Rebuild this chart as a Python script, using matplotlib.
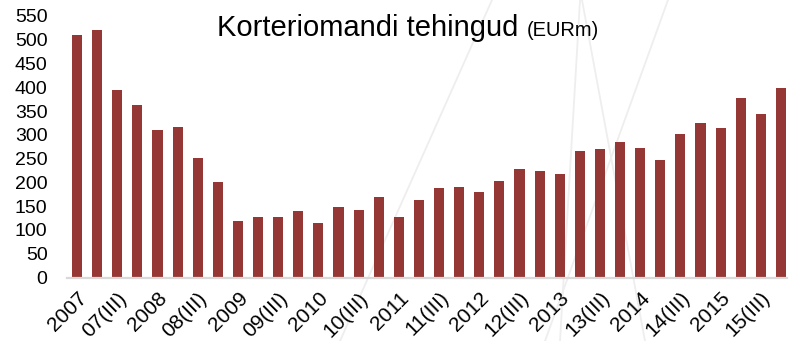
import matplotlib
matplotlib.use("Agg")
import matplotlib.pyplot as plt
from matplotlib.lines import Line2D

plt.rcParams['font.family'] = ['Liberation Sans', 'DejaVu Sans']

# Quarterly apartment transaction volumes, EUR million (2007 Q1 .. 2015 Q4)
quarters = [f"{y}Q{q}" for y in range(2007, 2016) for q in range(1, 5)]
values = [510, 521, 394, 363, 310, 316, 252, 200,
          118, 127, 127, 140, 115, 148, 142, 169,
          127, 163, 188, 190, 179, 202, 228, 224,
          218, 267, 271, 286, 273, 247, 301, 324,
          315, 377, 343, 399]
tick_labels = ["2007", "07(III)", "2008", "08(III)", "2009", "09(III)",
               "2010", "10(III)", "2011", "11(III)", "2012", "12(III)",
               "2013", "13(III)", "2014", "14(III)", "2015", "15(III)"]
y_ticks = list(range(0, 551, 50))

W, H = 796, 341
fig = plt.figure(figsize=(W / 100, H / 100), dpi=100)
fig.patch.set_facecolor("white")

# faint decorative background strokes
strokes = [((492, 0), (340, 341)),
           ((580, 0), (560, 341)),
           ((582, 0), (645, 341)),
           ((668, 0), (545, 341))]
for (x0, y0), (x1, y1) in strokes:
    fig.add_artist(Line2D([x0 / W, x1 / W], [1 - y0 / H, 1 - y1 / H],
                          transform=fig.transFigure, color="#eeeeee",
                          lw=1.3, zorder=0))

ax = fig.add_axes([67 / W, (H - 277.5) / H, 720 / W, (277.5 - 16) / H])
ax.set_facecolor("none")
ax.set_zorder(1)

x = list(range(len(values)))
ax.bar(x, values, width=0.5, color="#953735", edgecolor="none", zorder=2)

ax.set_xlim(-0.5, 35.3)
ax.set_ylim(0, 550)
ax.set_yticks(y_ticks)
ax.set_yticklabels([str(v) for v in y_ticks], fontsize=14)
ax.tick_params(axis="y", length=0, pad=14)

ax.set_xticks(x[::2])
ax.set_xticklabels(tick_labels, fontsize=15, rotation=45,
                   ha="right", va="top", rotation_mode="anchor")
ax.tick_params(axis="x", length=0, pad=8)

for side in ("top", "right", "left"):
    ax.spines[side].set_visible(False)
ax.spines["bottom"].set_color("#d9d9d9")
ax.spines["bottom"].set_linewidth(1.6)

# title with a smaller unit suffix
t_main = fig.text(217 / W, 1 - 36 / H, "Korteriomandi tehingud",
                  fontsize=21, ha="left", va="baseline", color="black")
fig.canvas.draw()
bb = t_main.get_window_extent()
fig.text((bb.x1 + 8) / W, 1 - 36 / H, "(EURm)", fontsize=14.5,
         ha="left", va="baseline", color="black")

fig.savefig("out.png", dpi=100)
